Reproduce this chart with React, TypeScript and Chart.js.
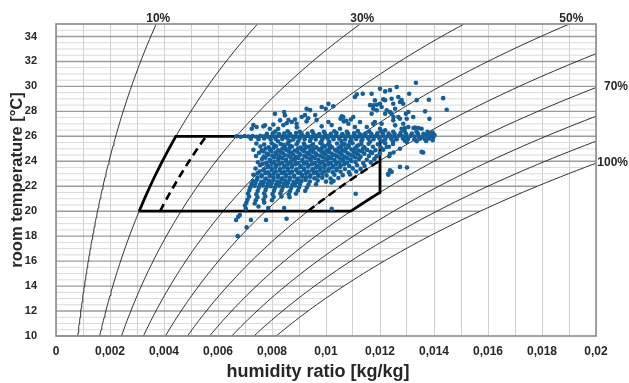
import React, { useEffect, useRef } from 'react';
import { Chart, registerables } from 'chart.js';
Chart.register(...registerables);

// ---------- axes ----------
const X_MIN = 0;
const X_MAX = 0.02;
const X_GRID_STEP = 0.001;
const Y_MIN = 10;
const Y_MAX = 35;
const Y_TICK_STEP = 2;
const X_TITLE = 'humidity ratio [kg/kg]';
const Y_TITLE = 'room temperature [°C]';

// ---------- psychrometric background ----------
const PRESSURE_KPA = 94.7;
const RH_LEVELS = [0.1, 0.2, 0.3, 0.4, 0.5, 0.6, 0.7, 0.8, 0.9, 1.0];
const RH_TOP_LABELS = [0.1, 0.3, 0.5];
const RH_RIGHT_LABELS = [0.7, 1.0];

// ---------- comfort zone ----------
const ZONE_T_MIN = 20;
const ZONE_T_MAX = 26;
const ZONE_RH_MIN = 0.2;
const ZONE_RH_MAX = 0.7;
const ZONE_W_MAX = 0.012;
const DASH_RH_LEFT = 0.25;
const DASH_RH_RIGHT = 0.6;

// ---------- measured room states [humidity ratio, temperature] ----------
const ABOVE_BAND: [number, number][] = [
  [0.00725, 26.61], [0.00731, 26.9], [0.00743, 26.75], [0.00768, 26.8], [0.00774, 26.88], [0.00792, 26.61],
  [0.00805, 26.95], [0.00811, 27.8], [0.00823, 26.6], [0.0083, 27.28], [0.00842, 26.9], [0.00845, 27.95],
  [0.00848, 27.68], [0.00854, 27.05], [0.00861, 27.3], [0.00873, 27.15], [0.00885, 27.35], [0.00891, 27.01],
  [0.00892, 26.72], [0.0091, 27.55], [0.00922, 27.7], [0.00928, 27.2], [0.00928, 28.2], [0.00934, 27.45],
  [0.00941, 28.1], [0.0096, 27.7], [0.00965, 27.3], [0.00984, 26.8], [0.00984, 28.35], [0.00999, 28.2],
  [0.01009, 27.15], [0.01009, 28.6], [0.01021, 26.9], [0.01027, 28.4], [0.01052, 26.61], [0.01054, 27.41],
  [0.01058, 27.6], [0.01064, 27.55], [0.01066, 27.2], [0.01075, 27.25], [0.01083, 27.01], [0.01092, 27.35],
  [0.01101, 27.55], [0.01107, 26.75], [0.01107, 29.15], [0.01114, 29.36], [0.01126, 27.15], [0.01136, 29.41],
  [0.01151, 26.75], [0.01163, 28.5], [0.01169, 29.41], [0.01169, 27.81], [0.01175, 28.21], [0.01175, 28.48],
  [0.01175, 27.0], [0.01181, 27.15], [0.01181, 28.88], [0.01188, 28.53], [0.01188, 28.08], [0.012, 26.61],
  [0.012, 28.61], [0.012, 29.81], [0.01206, 27.01], [0.01206, 28.35], [0.01212, 28.96], [0.01219, 26.48],
  [0.01219, 27.81], [0.01219, 28.9], [0.01219, 29.6], [0.01225, 28.08], [0.01237, 27.95], [0.01237, 29.7],
  [0.01243, 27.81], [0.01243, 29.01], [0.01249, 27.28], [0.01249, 28.61], [0.0125, 27.55], [0.01256, 26.88],
  [0.01256, 28.21], [0.01262, 29.95], [0.01268, 27.55], [0.01268, 29.15], [0.01274, 27.41], [0.01274, 28.75],
  [0.0128, 26.61], [0.0128, 28.9], [0.01286, 27.01], [0.01286, 28.61], [0.01293, 26.67], [0.01296, 27.8],
  [0.01299, 27.41], [0.01305, 26.75], [0.01305, 27.95], [0.01308, 29.41], [0.01323, 27.55], [0.01324, 26.67],
  [0.01333, 30.29], [0.01336, 28.9], [0.0133, 26.7], [0.01342, 26.67], [0.01354, 26.61], [0.01367, 28.0],
  [0.01381, 28.93], [0.01383, 27.4], [0.01434, 29.06], [0.01447, 28.13]
];

const BAND: [number, number][] = [
  [0.00668, 26.0], [0.00684, 25.97], [0.00699, 26.03], [0.00713, 25.98], [0.00728, 26.02], [0.00742, 25.96],
  [0.00757, 26.04], [0.00771, 26.0], [0.00786, 25.97], [0.00801, 26.03], [0.00815, 25.99], [0.0083, 26.02],
  [0.00846, 25.96], [0.0086, 26.04], [0.00874, 26.0], [0.0089, 25.97], [0.00905, 26.03], [0.00919, 25.98],
  [0.00934, 26.02], [0.00948, 25.96], [0.00963, 26.04], [0.00978, 26.0], [0.00992, 25.97], [0.01007, 26.03],
  [0.01021, 25.99], [0.01036, 26.02], [0.0105, 25.96], [0.01066, 26.04], [0.0108, 26.0], [0.01095, 25.97],
  [0.01109, 26.03], [0.01124, 25.98], [0.01138, 26.02], [0.01153, 25.96], [0.01168, 26.04], [0.01182, 26.0],
  [0.01197, 25.97], [0.01211, 26.03], [0.01226, 25.99], [0.0124, 26.02], [0.01255, 25.96], [0.0127, 26.04],
  [0.01284, 26.0], [0.01299, 25.97], [0.01313, 26.03], [0.01328, 25.98], [0.01343, 26.02], [0.01357, 25.96],
  [0.01372, 26.04], [0.01386, 26.0], [0.01398, 25.95],
  [0.00722, 25.8], [0.0075, 25.76], [0.00771, 25.82], [0.00795, 25.75], [0.00813, 25.8], [0.00838, 25.78],
  [0.00857, 25.83], [0.00879, 25.74], [0.00902, 25.8], [0.00921, 25.77], [0.00944, 25.82], [0.00962, 25.75],
  [0.00987, 25.79], [0.01006, 25.83], [0.01028, 25.76], [0.01049, 25.8], [0.01071, 25.74], [0.01093, 25.82],
  [0.01112, 25.78], [0.01135, 25.75], [0.01157, 25.81], [0.01176, 25.77], [0.01198, 25.83], [0.01219, 25.75],
  [0.01241, 25.8], [0.01262, 25.76], [0.01285, 25.82], [0.01304, 25.78], [0.01327, 25.74], [0.01348, 25.8],
  [0.01366, 25.77], [0.01381, 25.83],
  [0.00781, 26.2], [0.00803, 26.24], [0.00826, 26.18], [0.00845, 26.23], [0.00867, 26.2], [0.00889, 26.26],
  [0.0091, 26.19], [0.00932, 26.22], [0.00953, 26.25], [0.00975, 26.18], [0.00996, 26.23], [0.01018, 26.2],
  [0.01039, 26.26], [0.0106, 26.19], [0.01082, 26.22], [0.01104, 26.25], [0.01125, 26.18], [0.01146, 26.22],
  [0.01168, 26.2], [0.0119, 26.25], [0.01211, 26.19], [0.01232, 26.23], [0.01254, 26.2], [0.01276, 26.26],
  [0.01297, 26.18], [0.01318, 26.22], [0.0134, 26.25], [0.01361, 26.2], [0.01383, 26.22],
  [0.00822, 25.6], [0.00865, 25.62], [0.00897, 25.58], [0.00941, 25.63], [0.00983, 25.6], [0.01012, 25.56],
  [0.01057, 25.62], [0.01089, 25.59], [0.01131, 25.63], [0.01163, 25.57], [0.01207, 25.61], [0.01248, 25.6],
  [0.01292, 25.64], [0.01336, 25.6], [0.01371, 25.62], [0.01395, 25.68],
  [0.00812, 26.38], [0.00858, 26.4], [0.00903, 26.36], [0.00949, 26.41], [0.00992, 26.37], [0.01031, 26.4],
  [0.01077, 26.36], [0.01118, 26.42], [0.0116, 26.38], [0.01204, 26.4], [0.01249, 26.37], [0.01291, 26.41],
  [0.01335, 26.38], [0.01376, 26.36], [0.01402, 26.1], [0.01395, 26.3]
];

const BELOW_BAND: [number, number][] = [
  [0.00742, 25.42], [0.00771, 25.35], [0.00799, 25.45], [0.00832, 25.38], [0.00858, 25.44], [0.00891, 25.36],
  [0.00918, 25.43], [0.00952, 25.37], [0.00979, 25.46], [0.01008, 25.35], [0.01041, 25.42], [0.01069, 25.38],
  [0.01098, 25.45], [0.01131, 25.36], [0.01158, 25.41], [0.01192, 25.37], [0.01219, 25.44], [0.01248, 25.39],
  [0.00757, 25.18], [0.00788, 25.12], [0.00815, 25.2], [0.00848, 25.14], [0.00874, 25.19], [0.00906, 25.11],
  [0.00935, 25.17], [0.00964, 25.13], [0.00996, 25.2], [0.01022, 25.12], [0.01055, 25.18], [0.01083, 25.14],
  [0.01114, 25.21], [0.01142, 25.13], [0.01174, 25.17], [0.01203, 25.11], [0.01233, 25.16],
  [0.00731, 24.92], [0.00762, 24.87], [0.00792, 24.95], [0.00823, 24.88], [0.00852, 24.93], [0.00884, 24.86],
  [0.00911, 24.94], [0.00942, 24.89], [0.00973, 24.95], [0.01002, 24.87], [0.01033, 24.92], [0.01061, 24.88],
  [0.01094, 24.94], [0.01121, 24.86], [0.01152, 24.91], [0.01183, 24.89], [0.01212, 24.93],
  [0.00752, 24.68], [0.00781, 24.62], [0.00813, 24.7], [0.00841, 24.64], [0.00871, 24.69], [0.00902, 24.61],
  [0.00931, 24.67], [0.00962, 24.63], [0.00991, 24.7], [0.01021, 24.62], [0.01052, 24.68], [0.01081, 24.64],
  [0.01111, 24.69], [0.01142, 24.61], [0.01171, 24.66], [0.01199, 24.63],
  [0.00741, 24.42], [0.00769, 24.37], [0.00801, 24.45], [0.00828, 24.39], [0.00861, 24.44], [0.00889, 24.36],
  [0.0092, 24.43], [0.00949, 24.38], [0.00981, 24.45], [0.01009, 24.36], [0.0104, 24.41], [0.01068, 24.38],
  [0.01099, 24.44], [0.01128, 24.37], [0.01159, 24.42], [0.01187, 24.39],
  [0.00763, 24.18], [0.00792, 24.12], [0.00823, 24.2], [0.00852, 24.13], [0.00882, 24.17], [0.00912, 24.11],
  [0.00941, 24.19], [0.00972, 24.14], [0.01001, 24.18], [0.01031, 24.12], [0.01062, 24.16], [0.01091, 24.13],
  [0.01122, 24.19], [0.01151, 24.12], [0.01179, 24.17],
  [0.00748, 23.92], [0.00779, 23.87], [0.00808, 23.94], [0.00838, 23.88], [0.00869, 23.93], [0.00898, 23.86],
  [0.00928, 23.91], [0.00959, 23.88], [0.00988, 23.95], [0.01018, 23.87], [0.01049, 23.92], [0.01078, 23.89],
  [0.01109, 23.94], [0.01138, 23.86], [0.01166, 23.91],
  [0.00756, 23.68], [0.00786, 23.62], [0.00815, 23.69], [0.00846, 23.63], [0.00875, 23.67], [0.00906, 23.61],
  [0.00935, 23.68], [0.00966, 23.64], [0.00995, 23.69], [0.01026, 23.62], [0.01055, 23.66], [0.01086, 23.63],
  [0.01115, 23.68], [0.01143, 23.62],
  [0.00739, 23.42], [0.0077, 23.36], [0.00799, 23.44], [0.0083, 23.38], [0.00859, 23.43], [0.0089, 23.36],
  [0.00919, 23.41], [0.0095, 23.38], [0.00979, 23.45], [0.0101, 23.37], [0.01039, 23.42], [0.0107, 23.38],
  [0.01099, 23.43], [0.01128, 23.39],
  [0.00754, 23.18], [0.00785, 23.12], [0.00814, 23.19], [0.00845, 23.13], [0.00874, 23.17], [0.00905, 23.11],
  [0.00934, 23.18], [0.00965, 23.14], [0.00994, 23.19], [0.01025, 23.12], [0.01054, 23.16], [0.01085, 23.13],
  [0.01112, 23.18],
  [0.00731, 22.92], [0.00762, 22.87], [0.00791, 22.94], [0.00822, 22.88], [0.00851, 22.93], [0.00882, 22.86],
  [0.00911, 22.91], [0.00942, 22.88], [0.00971, 22.95], [0.01002, 22.87], [0.01031, 22.92], [0.01062, 22.89],
  [0.01089, 22.94],
  [0.00746, 22.68], [0.00777, 22.62], [0.00806, 22.69], [0.00837, 22.63], [0.00866, 22.67], [0.00897, 22.61],
  [0.00926, 22.68], [0.00957, 22.64], [0.00986, 22.69], [0.01017, 22.62], [0.01046, 22.66],
  [0.00729, 22.42], [0.0076, 22.36], [0.00789, 22.44], [0.0082, 22.38], [0.00849, 22.43], [0.0088, 22.36],
  [0.00909, 22.41], [0.0094, 22.38], [0.00969, 22.45], [0.01, 22.37], [0.01028, 22.42],
  [0.00724, 22.18], [0.00755, 22.12], [0.00784, 22.19], [0.00815, 22.13], [0.00844, 22.17], [0.00875, 22.11],
  [0.00904, 22.18], [0.00935, 22.14], [0.00963, 22.16],
  [0.0072, 21.92], [0.00751, 21.87], [0.0078, 21.94], [0.00811, 21.88], [0.0084, 21.93], [0.00871, 21.86],
  [0.009, 21.91], [0.00929, 21.89],
  [0.00716, 21.68], [0.00747, 21.62], [0.00776, 21.69], [0.00807, 21.63], [0.00836, 21.67], [0.00867, 21.61],
  [0.00896, 21.66], [0.00923, 21.63],
  [0.00711, 21.42], [0.00742, 21.36], [0.00771, 21.44], [0.00802, 21.38], [0.00831, 21.43], [0.00862, 21.36],
  [0.00889, 21.41],
  [0.00715, 21.18], [0.00746, 21.12], [0.00775, 21.19], [0.00806, 21.13], [0.00835, 21.17], [0.00865, 21.12],
  [0.00709, 20.92], [0.0074, 20.87], [0.00769, 20.94], [0.008, 20.88],
  [0.00705, 20.68], [0.00736, 20.62], [0.00771, 20.69],
  [0.007, 20.45], [0.0075, 20.38],
  [0.00703, 20.2], [0.00786, 20.25], [0.00845, 20.25], [0.01021, 20.2], [0.00681, 19.7], [0.00675, 19.55],
  [0.00667, 19.3], [0.00722, 19.3], [0.00778, 19.3], [0.00854, 19.4], [0.00706, 18.7], [0.00673, 18.0],
  [0.0111, 21.4], [0.0102, 22.3], [0.0123, 23.0], [0.01237, 23.28], [0.013, 23.5], [0.01274, 23.55],
  [0.01231, 22.93], [0.01243, 23.15], [0.01234, 24.4], [0.0136, 24.7], [0.0125, 24.7], [0.01225, 25.15],
  [0.01274, 25.0], [0.01299, 25.55], [0.01354, 24.75], [0.01237, 24.6]
];

const CORE_FILL: [number, number][] = [
  [0.00808, 25.28], [0.00843, 25.3], [0.00867, 25.25], [0.00921, 25.29], [0.00946, 25.24], [0.00987, 25.31],
  [0.01015, 25.27], [0.01058, 25.3], [0.01084, 25.26], [0.0112, 25.29],
  [0.00776, 25.03], [0.00806, 25.06], [0.00838, 25.01], [0.00865, 25.05], [0.00897, 25.02], [0.00924, 25.07],
  [0.00955, 25.0], [0.00985, 25.04], [0.01013, 25.01], [0.01046, 25.06], [0.01074, 25.02], [0.01108, 25.05], [0.01137, 25.0],
  [0.00768, 24.78], [0.00797, 24.8], [0.00832, 24.75], [0.00861, 24.79], [0.00893, 24.76], [0.00918, 24.81],
  [0.00951, 24.77], [0.00982, 24.8], [0.01011, 24.74], [0.01042, 24.78], [0.01071, 24.8], [0.01102, 24.76],
  [0.01133, 24.79], [0.01165, 24.75],
  [0.00786, 24.53], [0.00816, 24.55], [0.00847, 24.5], [0.00878, 24.54], [0.00905, 24.52], [0.00938, 24.56],
  [0.00967, 24.5], [0.00998, 24.54], [0.01029, 24.51], [0.01058, 24.55], [0.0109, 24.52], [0.01118, 24.56],
  [0.00776, 24.28], [0.00808, 24.3], [0.00838, 24.25], [0.00869, 24.29], [0.00897, 24.27], [0.00928, 24.31],
  [0.00958, 24.26], [0.00989, 24.3], [0.01018, 24.25], [0.01049, 24.29], [0.01078, 24.27], [0.01108, 24.3],
  [0.00793, 24.03], [0.00823, 24.05], [0.00853, 24.0], [0.00884, 24.04], [0.00913, 24.02], [0.00944, 24.06],
  [0.00973, 24.01], [0.01004, 24.05], [0.01034, 24.0], [0.01063, 24.04], [0.01094, 24.02],
  [0.00765, 23.78], [0.00799, 23.8], [0.00828, 23.75], [0.00859, 23.79], [0.00888, 23.77], [0.00919, 23.81],
  [0.00948, 23.76], [0.00979, 23.8], [0.01009, 23.75], [0.01038, 23.79], [0.01068, 23.77],
  [0.00784, 23.53], [0.00814, 23.55], [0.00844, 23.5], [0.00874, 23.54], [0.00904, 23.52], [0.00934, 23.56],
  [0.00963, 23.51], [0.00994, 23.55], [0.01023, 23.5], [0.01052, 23.54],
  [0.00769, 23.28], [0.00799, 23.3], [0.0083, 23.25], [0.00859, 23.29], [0.0089, 23.27], [0.00919, 23.31],
  [0.0095, 23.26], [0.00979, 23.3], [0.01008, 23.25], [0.01039, 23.29],
  [0.00746, 23.03], [0.00776, 23.05], [0.00806, 23.0], [0.00837, 23.04], [0.00866, 23.02], [0.00897, 23.06],
  [0.00926, 23.01], [0.00956, 23.05], [0.00986, 23.0],
  [0.00761, 22.78], [0.00792, 22.8], [0.00822, 22.75], [0.00851, 22.79], [0.00882, 22.77], [0.00911, 22.81],
  [0.00941, 22.76], [0.00971, 22.8],
  [0.00744, 22.53], [0.00775, 22.55], [0.00805, 22.5], [0.00835, 22.54], [0.00865, 22.52], [0.00894, 22.56], [0.00924, 22.51],
  [0.00739, 22.28], [0.00769, 22.3], [0.00799, 22.25], [0.0083, 22.29], [0.00859, 22.27], [0.0089, 22.31],
  [0.00736, 22.03], [0.00766, 22.05], [0.00796, 22.0], [0.00826, 22.04], [0.00856, 22.02], [0.00885, 22.06]
];

// ---------- styling ----------
const FONT = '"Liberation Sans", Arial, Helvetica, sans-serif';
const TEXT_COLOR = '#262626';
const POINT_COLOR = '#125f99';

// ---------- psychrometrics ----------
function satPressure(t: number): number {
  return 0.61094 * Math.exp((17.625 * t) / (t + 243.04));
}
function humidityRatio(rh: number, t: number): number {
  const pv = rh * satPressure(t);
  return (0.622 * pv) / (PRESSURE_KPA - pv);
}
function tempAt(rh: number, w: number): number {
  const pv = (w * PRESSURE_KPA) / (0.622 + w);
  const l = Math.log(pv / rh / 0.61094);
  return (243.04 * l) / (17.625 - l);
}
function rhCurve(rh: number, t0: number, t1: number, step: number) {
  const pts: { x: number; y: number }[] = [];
  for (let t = t0; t < t1 - 1e-9; t += step) pts.push({ x: humidityRatio(rh, t), y: t });
  pts.push({ x: humidityRatio(rh, t1), y: t1 });
  return pts;
}
function fmtX(v: number): string {
  return String(Number(v.toFixed(4))).replace('.', ',');
}

const psychPlugin = {
  id: 'psych',
  beforeDatasetsDraw(chart: any) {
    const { ctx, chartArea: a, scales } = chart;
    const x = scales.x, y = scales.y;
    ctx.save();
    for (const major of [false, true]) {
      for (let i = 0; i <= (Y_MAX - Y_MIN) * 2; i++) {
        const t = Y_MIN + i * 0.5;
        const isMajor = i % 4 === 0;
        if (isMajor !== major) continue;
        const py = y.getPixelForValue(t);
        const xe = Math.min(x.getPixelForValue(humidityRatio(1, t)), a.right);
        ctx.strokeStyle = major ? '#9b9b9b' : '#dadada';
        ctx.lineWidth = major ? 1.4 : 1;
        ctx.beginPath();
        ctx.moveTo(a.left, py);
        ctx.lineTo(xe, py);
        ctx.stroke();
      }
    }
    ctx.restore();
  },
  afterDatasetsDraw(chart: any) {
    const { ctx, chartArea: a, scales } = chart;
    const x = scales.x, y = scales.y;
    ctx.save();
    ctx.strokeStyle = '#8c8c8c';
    ctx.lineWidth = 1.6;
    ctx.strokeRect(a.left, a.top, a.right - a.left, a.bottom - a.top);
    ctx.fillStyle = TEXT_COLOR;
    ctx.font = 'bold 12px ' + FONT;
    ctx.textBaseline = 'middle';
    ctx.textAlign = 'center';
    for (const rh of RH_TOP_LABELS) {
      const px = x.getPixelForValue(humidityRatio(rh, Y_MAX));
      ctx.fillText(Math.round(rh * 100) + '%', px + 2, a.top - 5);
    }
    ctx.textAlign = 'right';
    for (const rh of RH_RIGHT_LABELS) {
      const py = y.getPixelForValue(tempAt(rh, X_MAX));
      ctx.fillText(Math.round(rh * 100) + '%', chart.width - 1, py - 1);
    }
    // x axis title
    ctx.font = 'bold 18px ' + FONT;
    ctx.textAlign = 'center';
    ctx.fillText(X_TITLE, (a.left + a.right) / 2 - 8, chart.height - 11);
    ctx.restore();
  }
};

export default function App() {
  const ref = useRef<HTMLCanvasElement | null>(null);
  useEffect(() => {
    document.body.style.margin = '0';
    const canvas = ref.current;
    if (!canvas) return;

    const curves = RH_LEVELS.map((rh) => ({
      data: rhCurve(rh, Y_MIN, Y_MAX, 0.25),
      showLine: true,
      pointRadius: 0,
      borderColor: '#1c1c1c',
      borderWidth: 0.9,
      clip: 0,
      order: 3
    }));

    const tTopRight = tempAt(ZONE_RH_MAX, ZONE_W_MAX);
    const zone = [
      ...rhCurve(ZONE_RH_MIN, ZONE_T_MIN, ZONE_T_MAX, 0.5),
      { x: ZONE_W_MAX, y: ZONE_T_MAX },
      ...rhCurve(ZONE_RH_MAX, ZONE_T_MIN, tTopRight, 0.25).reverse().map((p, i) => (i === 0 ? { x: ZONE_W_MAX, y: tTopRight } : p)),
      { x: humidityRatio(ZONE_RH_MIN, ZONE_T_MIN), y: ZONE_T_MIN }
    ];
    const dashLeft = rhCurve(DASH_RH_LEFT, ZONE_T_MIN, ZONE_T_MAX, 0.5);
    const dashRight = rhCurve(DASH_RH_RIGHT, ZONE_T_MIN, tempAt(DASH_RH_RIGHT, ZONE_W_MAX), 0.25);

    const points = [...BELOW_BAND, ...CORE_FILL, ...BAND, ...ABOVE_BAND].map(([w, t]) => ({ x: w, y: t }));

    const chart = new Chart(canvas, {
      type: 'scatter',
      data: {
        datasets: [
          { data: points, pointRadius: 2.3, pointBackgroundColor: POINT_COLOR, backgroundColor: POINT_COLOR, borderWidth: 0, pointBorderWidth: 0, order: 0 } as any,
          { data: zone, showLine: true, pointRadius: 0, borderColor: '#000', borderWidth: 2.8, order: 1 } as any,
          { data: dashLeft, showLine: true, pointRadius: 0, borderColor: '#000', borderWidth: 2.6, borderDash: [8, 5], order: 1 } as any,
          { data: dashRight, showLine: true, pointRadius: 0, borderColor: '#000', borderWidth: 2.6, borderDash: [8, 5], order: 1 } as any,
          ...(curves as any[])
        ]
      },
      options: {
        animation: false,
        responsive: false,
        devicePixelRatio: 1,
        events: [],
        layout: { padding: { top: 24, right: 33, left: 0, bottom: 0 } },
        plugins: { legend: { display: false }, tooltip: { enabled: false }, title: { display: false } },
        scales: {
          x: {
            type: 'linear',
            min: X_MIN,
            max: X_MAX,
            afterFit: (s: any) => { s.height = 47; },
            grid: { color: '#d0d0d0', lineWidth: 1, drawTicks: false },
            border: { display: false },
            ticks: {
              stepSize: X_GRID_STEP,
              autoSkip: false,
              maxRotation: 0,
              padding: 8,
              color: TEXT_COLOR,
              font: { family: FONT, size: 12, weight: 'bold' },
              callback: (v: any) => {
                const n = Math.round(Number(v) / X_GRID_STEP);
                return n % 2 === 0 ? fmtX(Number(v)) : '';
              }
            },
            title: { display: false }
          },
          y: {
            type: 'linear',
            min: Y_MIN,
            max: Y_MAX,
            afterFit: (s: any) => { s.width = 56; },
            grid: { display: false },
            border: { display: false },
            ticks: {
              stepSize: Y_TICK_STEP,
              includeBounds: false,
              padding: 11,
              color: TEXT_COLOR,
              font: { family: FONT, size: 11, weight: 'bold' },
              callback: (v: any) => (Number(v) > Y_MAX - 1 ? '' : String(v))
            },
            title: {
              display: true,
              text: Y_TITLE,
              color: TEXT_COLOR,
              font: { family: FONT, size: 16.5, weight: 'bold' },
              padding: { top: 8, bottom: 0 }
            }
          }
        }
      } as any,
      plugins: [psychPlugin]
    });
    return () => chart.destroy();
  }, []);

  return (
    <div style={{ position: 'fixed', left: 0, top: 0, width: 629, height: 383, background: '#fff' }}>
      <canvas ref={ref} width={629} height={383} style={{ width: 629, height: 383 }} />
    </div>
  );
}
